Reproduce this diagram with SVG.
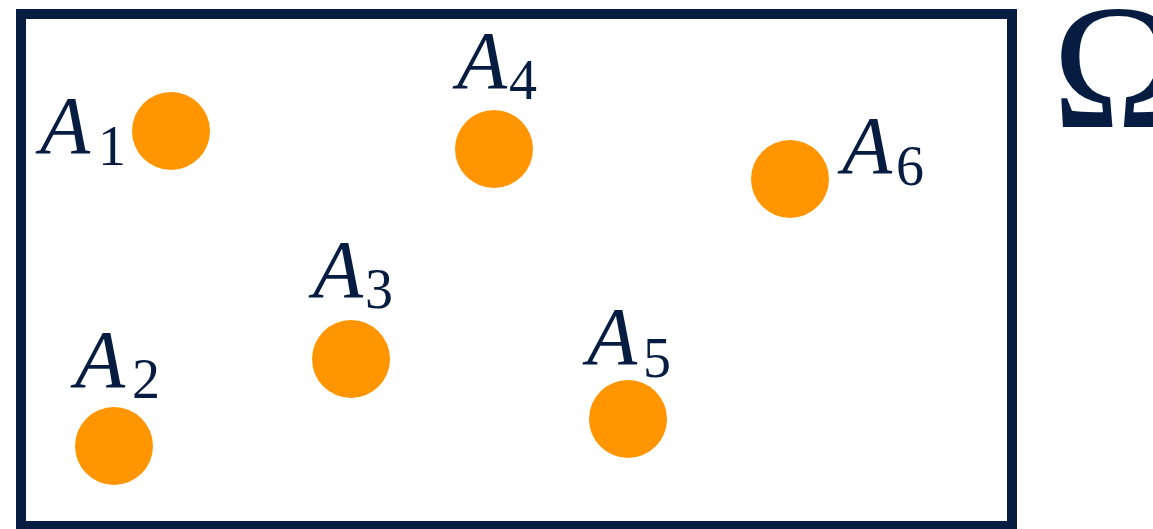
<svg xmlns="http://www.w3.org/2000/svg" width="1153" height="529" viewBox="0 0 1153 529">
<style>
.pt{fill:#ff9500}
.lbl{font-family:"Liberation Serif","DejaVu Serif",serif;font-style:italic;font-size:82px;fill:#061d41}
.sub{font-family:"Liberation Serif","DejaVu Serif",serif;font-style:normal;font-size:56px;fill:#061d41}
.om{font-family:"Liberation Serif","DejaVu Serif",serif;font-size:178px;fill:#061d41}
</style>
<rect x="0" y="0" width="1153" height="529" fill="#ffffff"/>
<g id="domain">
<rect x="21" y="14" width="991" height="512" fill="none" stroke="#061d41" stroke-width="10"/>
<text class="om" x="1052" y="127">Ω</text>
</g>
<g id="A1"><circle class="pt" cx="171" cy="131" r="39"/><text class="lbl" x="40" y="153">A</text><text class="sub" x="98" y="165">1</text></g>
<g id="A2"><circle class="pt" cx="114" cy="446" r="39"/><text class="lbl" x="75" y="387">A</text><text class="sub" x="132" y="398">2</text></g>
<g id="A3"><circle class="pt" cx="351" cy="359" r="39"/><text class="lbl" x="313" y="297">A</text><text class="sub" x="365" y="308">3</text></g>
<g id="A4"><circle class="pt" cx="494" cy="149" r="39"/><text class="lbl" x="457" y="88">A</text><text class="sub" x="509" y="99">4</text></g>
<g id="A5"><circle class="pt" cx="628" cy="419" r="39"/><text class="lbl" x="587" y="364">A</text><text class="sub" x="643" y="377">5</text></g>
<g id="A6"><circle class="pt" cx="790" cy="179" r="39"/><text class="lbl" x="842" y="173">A</text><text class="sub" x="896" y="185">6</text></g>
<g id="connectors"></g>
</svg>
